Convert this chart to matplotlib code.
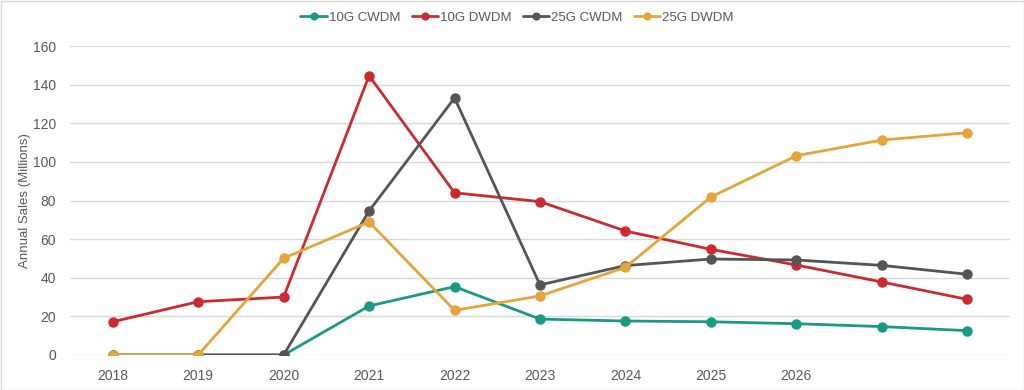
import matplotlib.pyplot as plt
import numpy as np

plt.rcParams['font.family'] = ['Liberation Sans', 'DejaVu Sans']

years = ["2018", "2019", "2020", "2021", "2022", "2023", "2024", "2025", "2026", "2027", "2028"]
tick_labels = ["2018", "2019", "2020", "2021", "2022", "2023", "2024", "2025", "2026", "", ""]

cwdm_10g = [0, 0, 0, 25.4, 35.4, 18.6, 17.6, 17.2, 16.2, 14.7, 12.6]
dwdm_10g = [17.2, 27.6, 30.0, 144.6, 84.0, 79.4, 64.2, 54.7, 46.6, 37.8, 28.8]
cwdm_25g = [0, 0, 0, 74.6, 133.1, 36.3, 46.3, 49.7, 49.2, 46.4, 41.8]
dwdm_25g = [0, 0, 50.1, 68.9, 23.1, 30.6, 45.4, 81.8, 103.2, 111.3, 115.1]

series = [
    ("10G CWDM", cwdm_10g, "#1a9a85"),
    ("10G DWDM", dwdm_10g, "#cc2a30"),
    ("25G CWDM", cwdm_25g, "#555555"),
    ("25G DWDM", dwdm_25g, "#e5a53a"),
]

text_col = "#595959"

fig = plt.figure(figsize=(10.24, 3.9), dpi=100)
ax = fig.add_axes([70/1024, 1 - 355/390, 940/1024, 309/390])

x = np.arange(len(years))
for name, vals, col in series:
    ax.plot(x, vals, color=col, lw=2, marker="o", ms=6.5, label=name,
            solid_capstyle="round")

ax.set_xlim(-0.5, len(years) - 0.5)
ax.set_ylim(0, 160)
ax.set_yticks(range(0, 161, 20))
ax.set_xticks(x)
ax.set_xticklabels(tick_labels)
ax.tick_params(length=0, labelsize=10, colors=text_col)
ax.tick_params(axis="x", pad=10)
ax.tick_params(axis="y", pad=10)
ax.grid(axis="y", color="#d9d9d9", lw=1)
ax.set_axisbelow(True)
for s in ax.spines.values():
    s.set_visible(False)
ax.set_ylabel("Annual Sales (Millions)", fontsize=9.5, color=text_col, labelpad=1)

ax.legend(loc="center", bbox_to_anchor=(517/1024, 1 - 18/390), bbox_transform=fig.transFigure,
          ncol=4, frameon=False, fontsize=9.5, labelcolor=text_col,
          handlelength=2.0, handletextpad=0.15, columnspacing=0.85, markerscale=0.75)

fig.patches.append(plt.Rectangle((0.5/1024, 0.5/390), 1 - 1/1024, 1 - 1/390, transform=fig.transFigure,
                                 fill=False, edgecolor="#d9d9d9", lw=1))

fig.savefig("out.png", dpi=100)
